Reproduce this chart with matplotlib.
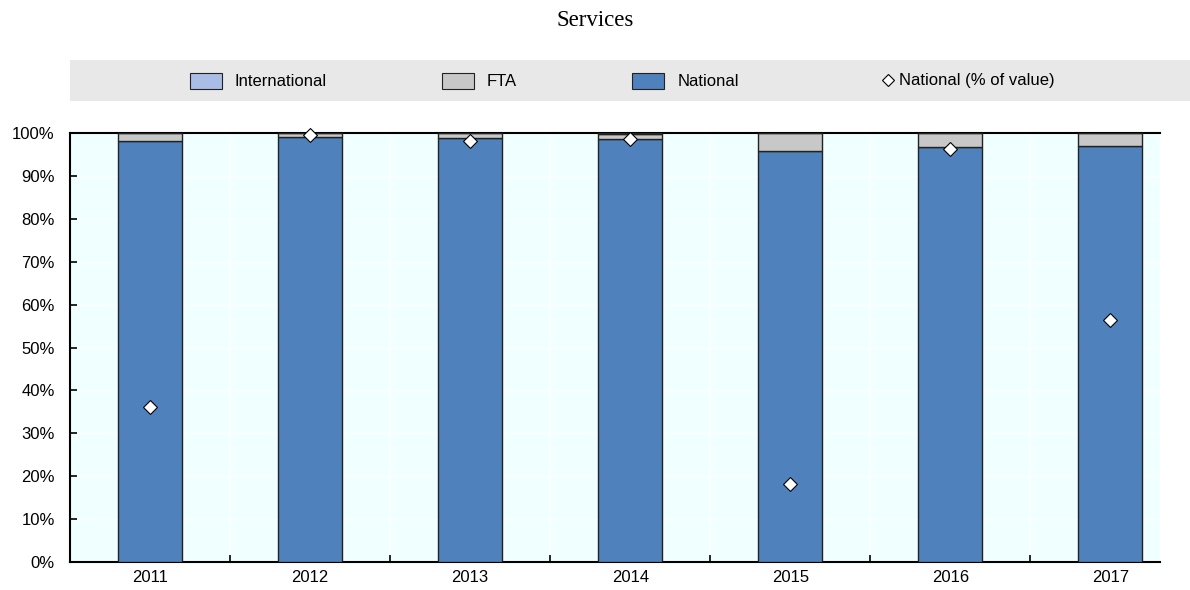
import numpy as np
import matplotlib.pyplot as plt
from matplotlib.patches import Rectangle
from matplotlib.lines import Line2D
from matplotlib.ticker import FuncFormatter

plt.rcParams['font.family'] = ['Liberation Sans', 'DejaVu Sans']

years = ["2011", "2012", "2013", "2014", "2015", "2016", "2017"]
national = [98.1, 99.0, 98.9, 98.5, 95.8, 96.7, 97.0]
international = [0.0, 0.0, 0.0, 0.3, 0.0, 0.0, 0.0]
fta = [100 - n - i for n, i in zip(national, international)]
national_value = [36.1, 99.6, 98.2, 98.6, 18.2, 96.3, 56.4]

c_nat = "#4F81BD"
c_fta = "#C8C8C8"
c_int = "#A9BDE6"

fig = plt.figure(figsize=(11.9, 5.9), dpi=100)
ax = fig.add_axes([70 / 1190, 28 / 590, 1090 / 1190, 429 / 590])
ax.set_facecolor("#F0FFFF")

x = np.arange(len(years))
w = 0.4
ax.bar(x, national, w, color=c_nat, edgecolor="#222222", linewidth=1, zorder=3)
ax.bar(x, fta, w, bottom=national, color=c_fta, edgecolor="#222222", linewidth=1, zorder=3)
bottom2 = [n + f for n, f in zip(national, fta)]
ax.bar(x, international, w, bottom=bottom2, color=c_int, edgecolor="#222222", linewidth=1, zorder=3)
ax.scatter(x, national_value, marker="D", s=50, facecolor="white", edgecolor="black",
           linewidth=0.8, zorder=5, clip_on=False)

ax.set_xlim(-0.5, len(years) - 1 + 0.31)
ax.set_ylim(0, 100)
ax.set_yticks(np.arange(0, 101, 10))
ax.yaxis.set_major_formatter(FuncFormatter(lambda v, p: f"{int(v)}%"))
ax.set_xticks(x)
ax.set_xticklabels(years)
ax.set_xticks(np.arange(0.5, len(years) - 0.5, 1), minor=True)
ax.tick_params(axis="x", which="major", length=0, labelsize=12, pad=6)
ax.tick_params(axis="x", which="minor", direction="in", length=5, width=1.2)
ax.tick_params(axis="y", direction="in", length=5, width=1.2, labelsize=12, pad=11)

# white separators between categories
for b in np.arange(0.5, len(years) - 0.5, 1):
    ax.axvline(b, color="white", linewidth=1.2, zorder=1)
for yv in range(10, 100, 10):
    ax.axhline(yv, color="white", linewidth=0.8, zorder=1)

for s in ["left", "bottom", "top"]:
    ax.spines[s].set_linewidth(1.5)
    ax.spines[s].set_color("black")
ax.spines["right"].set_visible(False)

fig.text(0.5, 1 - 20 / 590, "Services", ha="center", va="center",
         fontsize=16.5, family=["Liberation Serif", "DejaVu Serif"])

# legend band
fig.patches.append(Rectangle((70 / 1190, 1 - 101 / 590), 1120 / 1190, 41 / 590,
                             transform=fig.transFigure, facecolor="#E8E8E8",
                             edgecolor="none", zorder=0))
handles = [
    Rectangle((0, 0), 1, 1, facecolor=c_int, edgecolor="#222222", linewidth=0.8),
    Rectangle((0, 0), 1, 1, facecolor=c_fta, edgecolor="#222222", linewidth=0.8),
    Rectangle((0, 0), 1, 1, facecolor=c_nat, edgecolor="#222222", linewidth=0.8),
]
labels = ["International", "FTA", "National"]
leg_y = 1 - 81 / 590
fig.legend(handles, labels, loc="center left", bbox_to_anchor=(190 / 1190, leg_y), ncol=3,
           frameon=False, fontsize=12, columnspacing=6.9, handlelength=1.9,
           handleheight=1.1, handletextpad=0.8, borderpad=0, borderaxespad=0)

diamond = Line2D([], [], marker="D", linestyle="none", markersize=6, markerfacecolor="white",
                 markeredgecolor="black", markeredgewidth=0.8)
fig.legend([diamond], ["National (% of value)"], loc="center left",
           bbox_to_anchor=(881 / 1190, leg_y), frameon=False, fontsize=12,
           handlelength=0.8, handletextpad=0.3, borderpad=0, borderaxespad=0)

fig.savefig("out.png", dpi=100)
